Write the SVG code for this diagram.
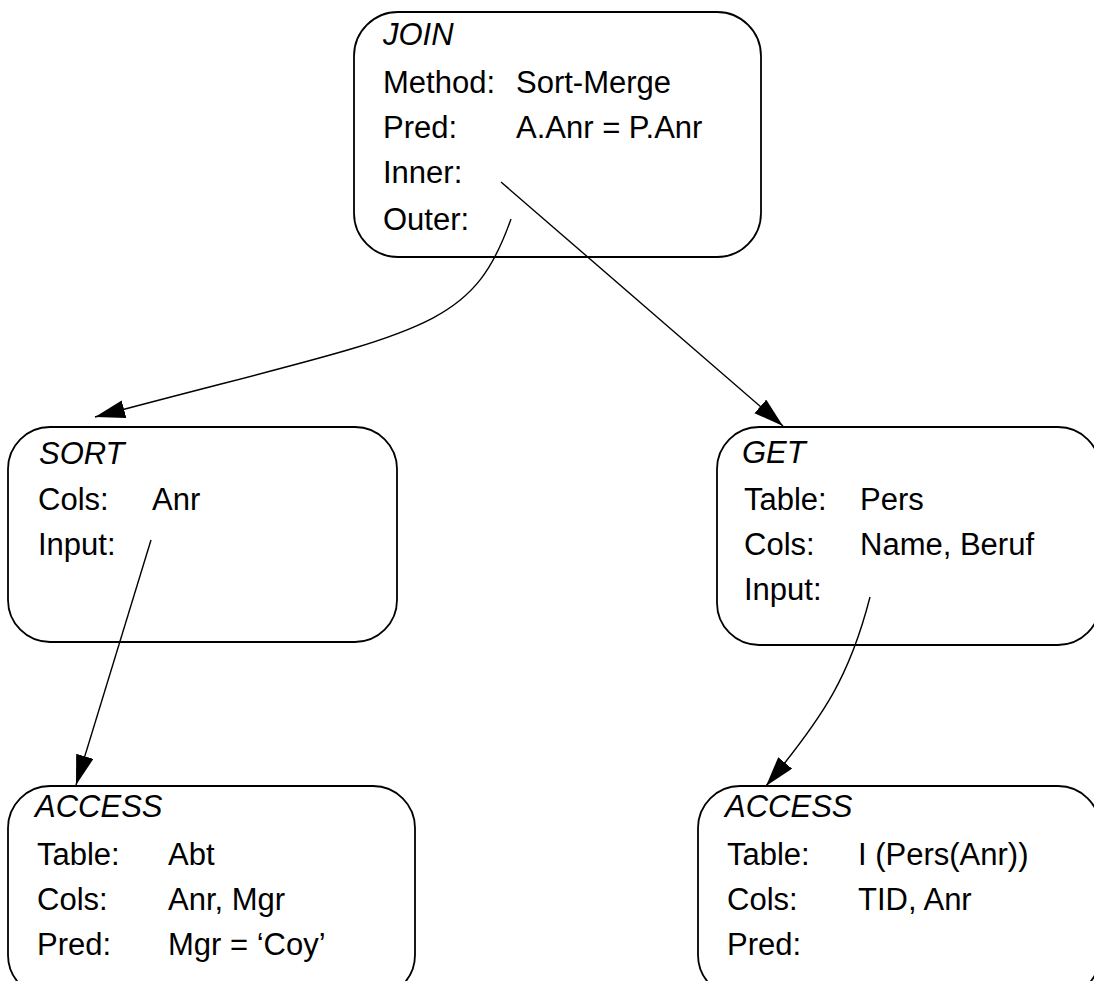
<svg xmlns="http://www.w3.org/2000/svg" width="1094" height="981" viewBox="0 0 1094 981">
<style>
.box{fill:#fff;stroke:#000;stroke-width:1.8}
text{font-family:"Liberation Sans",Arial,sans-serif;font-size:31px;fill:#000}
.t{font-style:italic}
.c{fill:none;stroke:#000;stroke-width:1.4}
</style>
<defs>
<marker id="ah" markerUnits="userSpaceOnUse" markerWidth="32" markerHeight="20" refX="30" refY="9" orient="auto">
<path d="M0,0 L30,9 L0,18 Z" fill="#000"/>
</marker>
</defs>
<rect width="1094" height="981" fill="#fff"/>
<g id="join">
<rect class="box" x="354" y="12" width="407" height="245" rx="44" ry="44"/>
<text class="t" x="383" y="45">JOIN</text>
<text x="383" y="93">Method:</text><text x="516" y="93">Sort-Merge</text>
<text x="383" y="138">Pred:</text><text x="516" y="138">A.Anr = P.Anr</text>
<text x="383" y="183">Inner:</text>
<text x="383" y="230">Outer:</text>
</g>
<g id="sort">
<rect class="box" x="8" y="427" width="389" height="215" rx="42" ry="42"/>
<text class="t" x="39" y="464">SORT</text>
<text x="38" y="510">Cols:</text><text x="152" y="510">Anr</text>
<text x="38" y="555">Input:</text>
</g>
<g id="get">
<rect class="box" x="717" y="427" width="383" height="218" rx="42" ry="42"/>
<text class="t" x="742" y="463">GET</text>
<text x="744" y="510">Table:</text><text x="860" y="510">Pers</text>
<text x="744" y="555">Cols:</text><text x="860" y="555">Name, Beruf</text>
<text x="744" y="600">Input:</text>
</g>
<g id="access1">
<rect class="box" x="8" y="786" width="407" height="211" rx="42" ry="42"/>
<text class="t" x="35" y="817">ACCESS</text>
<text x="37" y="865">Table:</text><text x="168" y="865">Abt</text>
<text x="37" y="910">Cols:</text><text x="168" y="910">Anr, Mgr</text>
<text x="37" y="955">Pred:</text><text x="168" y="955">Mgr = ‘Coy’</text>
</g>
<g id="access2">
<rect class="box" x="698" y="786" width="402" height="211" rx="42" ry="42"/>
<text class="t" x="725" y="817">ACCESS</text>
<text x="727" y="865">Table:</text><text x="858" y="865">I (Pers(Anr))</text>
<text x="727" y="910">Cols:</text><text x="858" y="910">TID, Anr</text>
<text x="727" y="955">Pred:</text>
</g>
<g id="connectors">
<path class="c" d="M511,219 C470,335 420,330 95,417" marker-end="url(#ah)"/>
<path class="c" d="M501,182 L783,426" marker-end="url(#ah)"/>
<path class="c" d="M151,540 L76,785" marker-end="url(#ah)"/>
<path class="c" d="M870,597 C850,675 825,715 766,786" marker-end="url(#ah)"/>
</g>
</svg>
